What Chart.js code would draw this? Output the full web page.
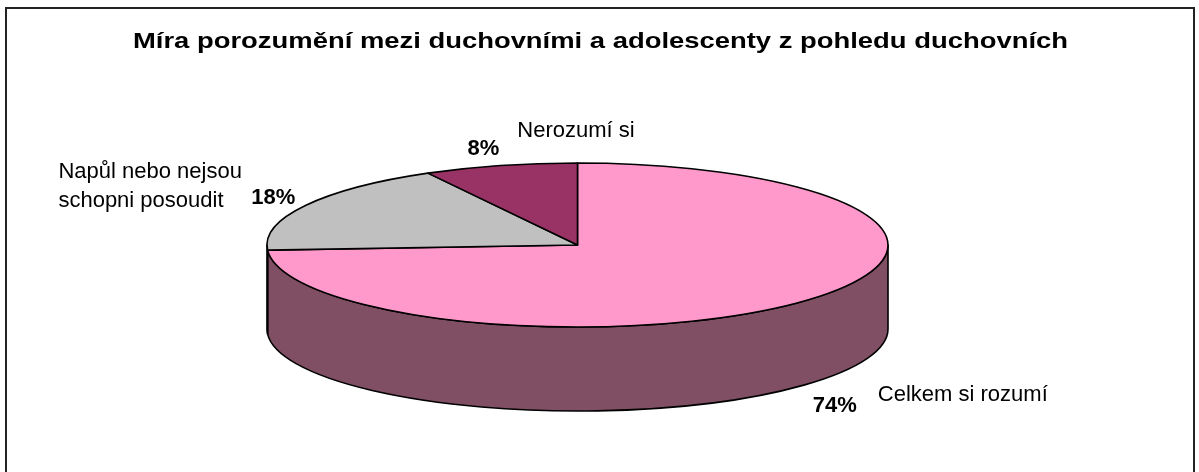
<!DOCTYPE html>
<html>
<head>
<meta charset="utf-8">
<script src="https://cdn.jsdelivr.net/npm/chart.js@4.4.1/dist/chart.umd.min.js"></script>
<title>Míra porozumění</title>
<style>
  body { margin: 0; background: #fff; }
  #wrap { width: 1199px; height: 472px; position: relative; }
</style>
</head>
<body>
<div id="wrap"><canvas id="pie"></canvas></div>
<script>
// data
const chartTitle = 'Míra porozumění mezi duchovními a adolescenty z pohledu duchovních';
const categories = ['Celkem si rozumí', ['Napůl nebo nejsou', 'schopni posoudit'], 'Nerozumí si'];
const shares = [74, 18, 8];

// look
const topColors = ['#FF99CC', '#C0C0C0', '#993366'];
const sideColors = ['#804F63', '#8A8A8A', '#5C1F3D'];
const FONT = "'Liberation Sans', Arial, sans-serif";
const TILT = 82 / 310.5;
// label offsets from the slice mid point on the top ellipse
const labelPos = [
  { pct: [9, 111, 'left'], name: [74, 100, 'left'] },
  { pct: [-10, -1.5, 'right'], name: [-247, -27.5, 'left'] },
  { pct: [-1, -10.6, 'right'], name: [17, -28.6, 'left'] }
];

const pie3d = {
  id: 'pie3d',
  beforeDatasetsDraw(chart) {
    const ctx = chart.ctx, area = chart.chartArea;
    const rx = (area.right - area.left) / 2;
    const cx = area.left + rx;
    const ry = rx * TILT;
    const cy = area.top + ry;
    const depth = area.bottom - area.top - 2 * ry;
    const arcs = chart.getDatasetMeta(0).data;
    const total = shares.reduce((a, b) => a + b, 0);

    ctx.save();
    ctx.lineWidth = 1.6;
    ctx.strokeStyle = '#000';
    ctx.lineJoin = 'round';

    // front walls
    arcs.forEach((el, i) => {
      const a1 = Math.max(el.startAngle, 0), a2 = Math.min(el.endAngle, Math.PI);
      if (a2 <= a1) return;
      ctx.beginPath();
      ctx.ellipse(cx, cy, rx, ry, 0, a1, a2);
      ctx.ellipse(cx, cy + depth, rx, ry, 0, a2, a1, true);
      ctx.closePath();
      ctx.fillStyle = sideColors[i];
      ctx.fill();
      ctx.stroke();
    });

    // top faces
    arcs.forEach((el, i) => {
      ctx.beginPath();
      ctx.moveTo(cx, cy);
      ctx.ellipse(cx, cy, rx, ry, 0, el.startAngle, el.endAngle);
      ctx.closePath();
      ctx.fillStyle = topColors[i];
      ctx.fill();
      ctx.stroke();
    });

    // labels
    ctx.fillStyle = '#000';
    ctx.textBaseline = 'alphabetic';
    arcs.forEach((el, i) => {
      const mid = (el.startAngle + el.endAngle) / 2;
      const px = cx + rx * Math.cos(mid), py = cy + ry * Math.sin(mid);
      const p = labelPos[i];
      ctx.font = 'bold 22px ' + FONT;
      ctx.textAlign = p.pct[2];
      ctx.fillText(Math.round(shares[i] / total * 100) + '%', px + p.pct[0], py + p.pct[1]);
      ctx.font = '22px ' + FONT;
      ctx.textAlign = p.name[2];
      const lines = [].concat(categories[i]);
      lines.forEach((t, k) => ctx.fillText(t, px + p.name[0], py + p.name[1] + k * 29));
    });
    ctx.restore();
    return false;
  },
  afterDraw(chart) {
    const ctx = chart.ctx;
    ctx.save();
    ctx.strokeStyle = '#222';
    ctx.lineWidth = 2;
    ctx.strokeRect(6, 8, 1188, 480);
    // title, stretched to the original width
    ctx.font = 'bold 22px ' + FONT;
    ctx.fillStyle = '#000';
    ctx.textAlign = 'center';
    const w = ctx.measureText(chartTitle).width;
    ctx.translate(600.5, 48);
    ctx.scale(935 / w, 1);
    ctx.fillText(chartTitle, 0, 0);
    ctx.restore();
  }
};

new Chart(document.getElementById('pie'), {
  type: 'pie',
  data: {
    labels: categories,
    datasets: [{ data: shares, backgroundColor: topColors, borderWidth: 0 }]
  },
  options: {
    responsive: true,
    maintainAspectRatio: false,
    animation: false,
    layout: { padding: { left: 267, right: 311, top: 163, bottom: 61 } },
    plugins: { legend: { display: false }, tooltip: { enabled: false }, title: { display: false } }
  },
  plugins: [pie3d]
});
</script>
</body>
</html>
